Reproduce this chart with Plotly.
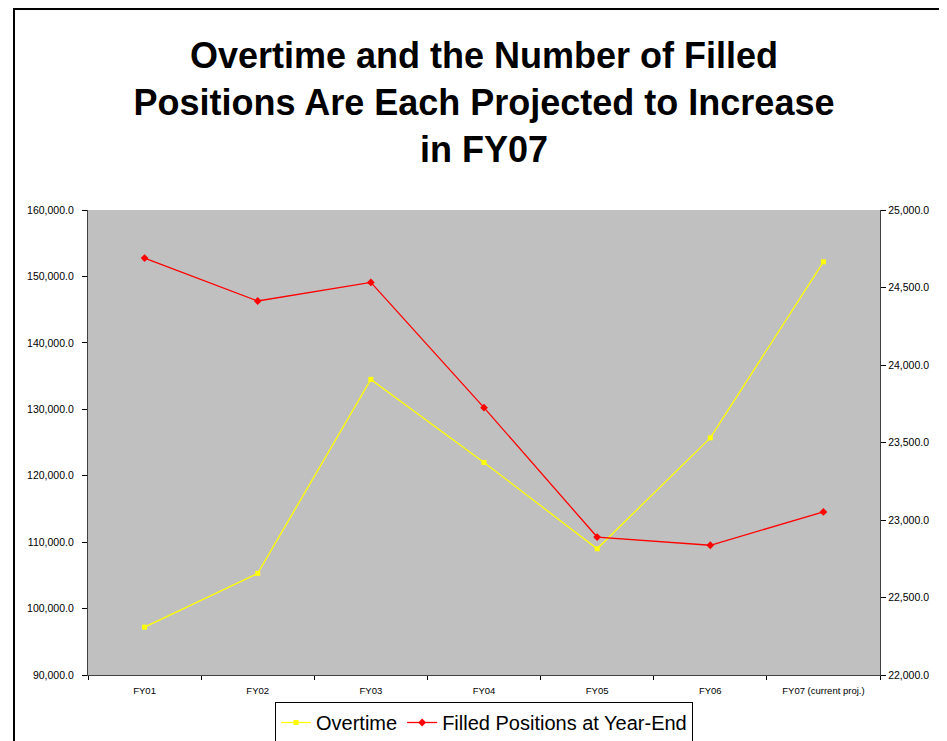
import plotly.graph_objects as go

categories = ["FY01", "FY02", "FY03", "FY04", "FY05", "FY06", "FY07 (current proj.)"]
overtime = [97200, 105300, 134500, 122000, 109000, 125700, 152200]
filled_positions = [24690, 24413, 24533, 23725, 22890, 22837, 23052]

left_ticks = [90000, 100000, 110000, 120000, 130000, 140000, 150000, 160000]
right_ticks = [22000, 22500, 23000, 23500, 24000, 24500, 25000]

FONT = "Liberation Sans, Arial, sans-serif"

# page has an 8px body margin; the figure starts at (8, 8)
OFF = 8
W, H = 947 - OFF, 741 - OFF

fig = go.Figure()
fig.add_trace(go.Scatter(
    x=categories, y=overtime, name="Overtime", mode="lines+markers",
    line=dict(color="#FFFF00", width=1.3),
    marker=dict(symbol="square", size=5, color="#FFFF00"),
    yaxis="y",
))
fig.add_trace(go.Scatter(
    x=categories, y=filled_positions, name="Filled Positions at Year-End", mode="lines+markers",
    line=dict(color="#FF0000", width=1.3),
    marker=dict(symbol="diamond", size=6, color="#FF0000"),
    yaxis="y2",
))

fig.update_layout(
    width=W, height=H,
    margin=dict(l=88 - OFF, r=67, t=210 - OFF, b=66, autoexpand=False),
    paper_bgcolor="white",
    plot_bgcolor="#C0C0C0",
    font=dict(family=FONT, color="black"),
    title=dict(
        text="<b>Overtime and the Number of Filled<br>Positions Are Each Projected to Increase<br>in FY07</b>",
        font=dict(family=FONT, size=36, color="black"),
        x=0.5, xref="paper", xanchor="center",
        y=1 - 60 / H, yref="container", yanchor="middle",
    ),
    xaxis=dict(
        type="category", tickson="boundaries", ticks="outside", ticklen=4,
        tickcolor="black", showline=True, linecolor="#404040", linewidth=1.2,
        showgrid=False, tickfont=dict(size=9.5, family=FONT), zeroline=False,
        range=[-0.5, 6.5], ticklabelstandoff=6,
    ),
    yaxis=dict(
        range=[90000, 160000], tickvals=left_ticks, tickformat=",.1f",
        ticks="outside", ticklen=5, tickcolor="black",
        showline=True, linecolor="#404040", linewidth=1.2,
        showgrid=False, zeroline=False, tickfont=dict(size=10.5, family=FONT),
        ticklabelstandoff=6,
    ),
    yaxis2=dict(
        range=[22000, 25000], tickvals=right_ticks, tickformat=",.1f",
        overlaying="y", side="right",
        ticks="outside", ticklen=5, tickcolor="black",
        showline=True, linecolor="#404040", linewidth=1.2,
        showgrid=False, zeroline=False, tickfont=dict(size=10.5, family=FONT),
    ),
    legend=dict(
        orientation="h", x=0.5, xanchor="center", y=(675 - 702) / 465, yanchor="top",
        bgcolor="white", bordercolor="black", borderwidth=1,
        font=dict(size=20, family=FONT, color="black"),
        itemwidth=30, tracegroupgap=0,
    ),
    showlegend=True,
)

# chart-area border (left and top edges), positioned in page pixels
def px_x(px):
    return (px - 88) / 792

def px_y(py):
    return (675 - py) / 465

fig.add_shape(
    type="path", xref="paper", yref="paper",
    path=f"M {px_x(14)} {px_y(760)} L {px_x(14)} {px_y(9)} L {px_x(960)} {px_y(9)}",
    line=dict(color="black", width=2),
)

fig.write_html("out.html")
